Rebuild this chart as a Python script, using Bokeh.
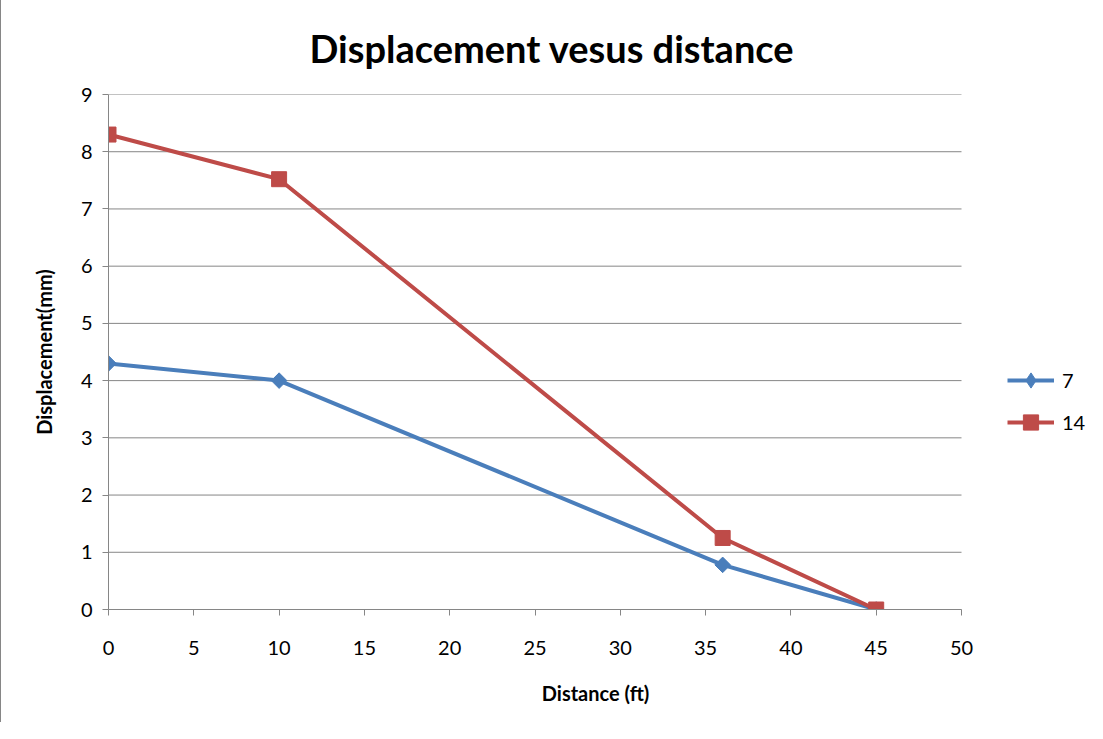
import math
from bokeh.plotting import figure
from bokeh.models import Legend, LegendItem, FixedTicker, Range1d
from bokeh.embed import file_html
from bokeh.resources import INLINE

distance = [0, 10, 36, 45]
disp_7 = [4.3, 4.0, 0.78, 0.0]
disp_14 = [8.3, 7.52, 1.25, 0.0]
series_names = ["7", "14"]
x_ticks = [0, 5, 10, 15, 20, 25, 30, 35, 40, 45, 50]
y_ticks = [0, 1, 2, 3, 4, 5, 6, 7, 8, 9]

BLUE = "#4A7EBB"
RED = "#BE4B48"
GRAY = "#868686"
FONT = "Lato"

# layout: axis area is 853 px wide; frame extends further right to host the legend
W, H = 1086, 725
LEFT, TOP, BOTTOM = 107, 96, 114
AXIS_W = 853
FRAME_W = W - LEFT
x_end = x_ticks[-1] * FRAME_W / AXIS_W

p = figure(width=W, height=H, output_backend="svg", toolbar_location=None,
           x_range=Range1d(x_ticks[0], x_end), y_range=Range1d(y_ticks[0], y_ticks[-1]),
           min_border_left=LEFT, min_border_right=0, min_border_top=TOP, min_border_bottom=BOTTOM,
           styles={"border-left": "1px solid #868686", "border-top": "1px solid #868686",
                   "margin-top": "-3px"})
p.outline_line_color = None
p.background_fill_color = "white"

p.title.text = "Displacement vesus distance"
p.title.text_font = FONT
p.title.text_font_style = "bold"
p.title.text_font_size = "38px"
p.title.text_line_height = 0.6
p.title.align = "left"
p.title.offset = 201
p.title.standoff = 47
p.title.text_color = "black"

for ax in (p.xaxis[0], p.yaxis[0]):
    ax.axis_line_color = GRAY
    ax.major_tick_line_color = GRAY
    ax.minor_tick_line_color = None
    ax.major_tick_in = 0
    ax.major_tick_out = 6
    ax.major_label_text_font = FONT
    ax.major_label_text_font_size = "20px"
    ax.major_label_text_color = "black"
    ax.axis_label_text_font = FONT
    ax.axis_label_text_font_style = "bold"
    ax.axis_label_text_font_size = "20px"
    ax.axis_label_text_color = "black"

p.xaxis.ticker = FixedTicker(ticks=x_ticks)
p.yaxis.ticker = FixedTicker(ticks=y_ticks)
p.xaxis.bounds = (x_ticks[0], x_ticks[-1])
p.xaxis.axis_label = "Distance  (ft)"
p.yaxis.axis_label = "Displacement(mm)"
p.xaxis.major_label_standoff = 25
p.xaxis.axis_label_standoff = 23
p.yaxis.major_label_standoff = 10
p.yaxis.axis_label_standoff = 22

p.xgrid.grid_line_color = None
p.ygrid.grid_line_color = None

# horizontal gridlines limited to the axis extent
p.segment(x0=[x_ticks[0]] * len(y_ticks), x1=[x_ticks[-1]] * len(y_ticks),
          y0=y_ticks, y1=y_ticks, line_color=GRAY, line_width=1)

l1 = p.line(distance, disp_7, line_color=BLUE, line_width=4)
m1 = p.scatter(distance, disp_7, marker="square", angle=math.pi / 4, size=11,
               fill_color=BLUE, line_color=BLUE)
l2 = p.line(distance, disp_14, line_color=RED, line_width=4)
m2 = p.scatter(distance, disp_14, marker="square", size=15, fill_color=RED, line_color=RED)
# marker used only for the legend swatch of series "7" (no visible point)
m1_leg = p.scatter(x=[float("nan")], y=[float("nan")], marker="diamond",
                   fill_color=BLUE, line_color=BLUE)

legend = Legend(items=[LegendItem(label=series_names[0], renderers=[l1, m1_leg]),
                       LegendItem(label=series_names[1], renderers=[l2, m2])],
                location=(899, 168), orientation="vertical",
                glyph_width=47, glyph_height=38, label_standoff=8, spacing=4,
                padding=0, margin=0, border_line_color=None, background_fill_alpha=0,
                label_text_font=FONT, label_text_font_size="20px", label_text_color="black")
p.add_layout(legend)

open("out.html", "w").write(file_html(p, INLINE))
